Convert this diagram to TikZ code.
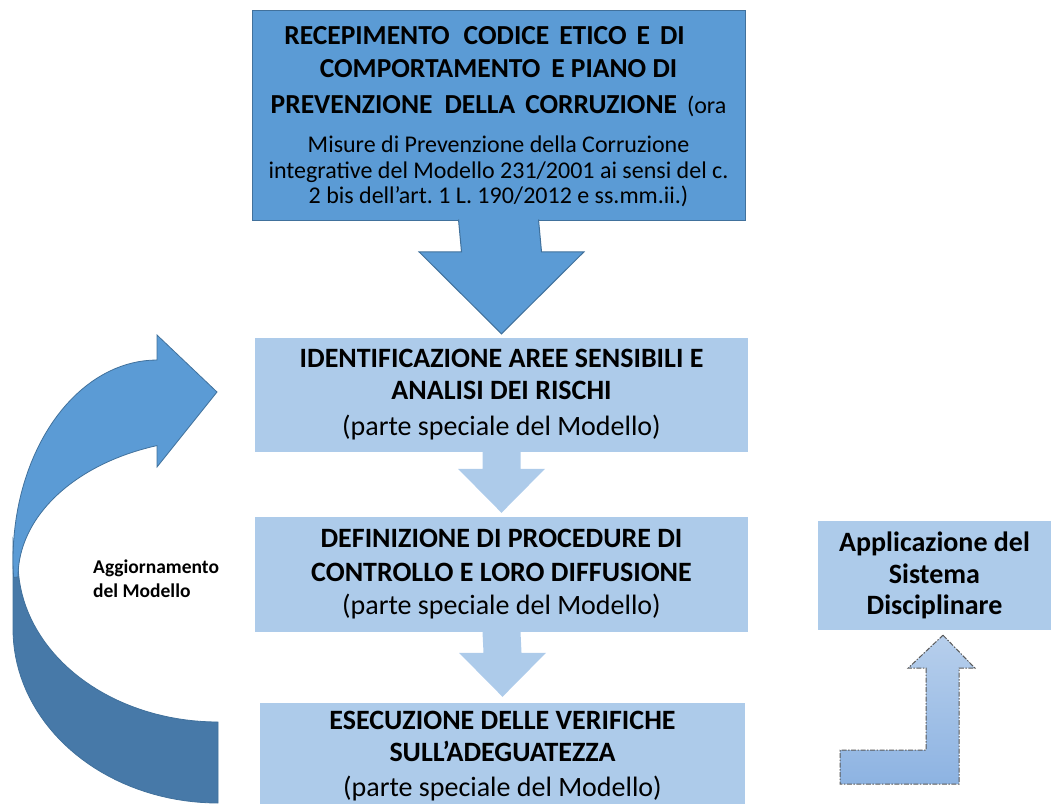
\documentclass[tikz,border=0pt]{standalone}
\usepackage{fontspec}
\setmainfont{Carlito}
\usetikzlibrary{calc}
\frenchspacing

\definecolor{accent}{HTML}{5B9BD5}
\definecolor{accentline}{HTML}{41719C}
\definecolor{pale}{HTML}{ADCBEA}
\definecolor{deep}{HTML}{4779A8}
\definecolor{bentTop}{HTML}{B7CFEC}
\definecolor{bentBot}{HTML}{8DB3E2}

\newcommand{\capsfont}{\fontsize{27.5}{26}\selectfont\bfseries}

\begin{document}
\begin{tikzpicture}[x=1pt, y=-1pt,
	topbox/.style={fill=accent, draw=accentline, line width=1pt, minimum width=493pt, minimum height=210pt, inner sep=0pt, align=center, font=\fontsize{24}{26}\selectfont},
	litebox/.style={fill=pale, inner sep=0pt, align=center, font=\fontsize{28}{32}\selectfont},
	darkarrow/.style={fill=accent, draw=accentline, line width=1pt},
	litearrow/.style={fill=pale},
	bandlight/.style={fill=accent, draw=accentline, line width=.8pt},
	banddark/.style={fill=deep, draw=accentline, line width=.8pt},
	bentarrow/.style={top color=bentTop, bottom color=bentBot, draw=gray!70!black, line width=1pt, dash pattern=on 5pt off 1.5pt on 1.5pt off 1.5pt}]
	
	\useasboundingbox (0,0) rectangle (1051,803);
	\clip (0,0) rectangle (1051,803);
	
	\node[topbox] (R) at (498.5,115) {\rule{0pt}{21.7pt}{\capsfont RECEPIMENTO\hspace{14pt}CODICE\hspace{10pt}ETICO\hspace{10pt}E\hspace{10pt}DI\kern28pt}\\[7pt]{\capsfont COMPORTAMENTO\hspace{11pt}E PIANO DI}\\[10pt]{\capsfont PREVENZIONE\hspace{12pt}DELLA\hspace{10pt}CORRUZIONE}\hspace{10pt}(ora\\[13pt]Misure di Prevenzione della Corruzione\\integrative del Modello 231/2001 ai sensi del c.\\[-1pt]2 bis dell’art. 1 L. 190/2012 e ss.mm.ii.)};
	\node[litebox, minimum width=493pt, minimum height=114pt] (I) at (501.5,395) {\textbf{IDENTIFICAZIONE AREE SENSIBILI E}\\\textbf{ANALISI DEI RISCHI}\\[4pt](parte speciale del Modello)};
	\node[litebox, minimum width=493pt, minimum height=115pt] (D) at (501.5,574.5) {\textbf{DEFINIZIONE DI PROCEDURE DI}\\[2pt]\textbf{CONTROLLO E LORO DIFFUSIONE}\\[1pt](parte speciale del Modello)};
	\node[litebox, minimum width=485pt, minimum height=107pt] (E) at (502.5,756.5) {\textbf{ESECUZIONE DELLE VERIFICHE}\\\textbf{SULL’ADEGUATEZZA}\\[3pt](parte speciale del Modello)};
	\node[litebox, minimum width=233pt, minimum height=109pt, font=\fontsize{28}{32}\selectfont\bfseries] (S) at (934.5,575.5) {Applicazione del\\Sistema\\[-1pt]Disciplinare};
	\node[anchor=west, align=left, inner sep=0pt, font=\fontsize{19.5}{24}\selectfont\bfseries] (agg) at (93,579) {Aggiornamento\\del Modello};
	
	% arrows down the column
	\filldraw[darkarrow] ($(R.south)+(-40,-1)$) -- ($(I.north)+(-40,-86)$) -- ($(I.north)+(-82.5,-86)$) -- ($(I.north)+(0,-4)$) -- ($(I.north)+(82.5,-86)$) -- ($(I.north)+(40,-86)$) -- ($(R.south)+(40,-1)$);
	\fill[litearrow] ($(I.south)+(-19,0)$) -- ($(D.north)+(-19,-48)$) -- ($(D.north)+(-43.5,-48)$) -- ($(D.north)+(0,-4)$) -- ($(D.north)+(43.5,-48)$) -- ($(D.north)+(19,-48)$) -- ($(I.south)+(19,0)$) -- cycle;
	\fill[litearrow] ($(D.south)+(-19,0)$) -- ($(E.north)+(-19,-50)$) -- ($(E.north)+(-43.5,-50)$) -- ($(E.north)+(0,-6)$) -- ($(E.north)+(43.5,-50)$) -- ($(E.north)+(19,-50)$) -- ($(D.south)+(19,0)$) -- cycle;
	
	% curved arrow back to the top
	\filldraw[banddark] (13,540) -- plot[domain=180:90, samples=40] ({218+205*cos(\x)},{629+174*sin(\x)}) -- (218,722) -- plot[domain=90:180, samples=40] ({218+200*cos(\x)},{562+160*sin(\x)}) -- cycle;
	\filldraw[bandlight] (157,335) -- (217,392) -- (157,467) -- (157,445.6) -- plot[domain=252.2:180, samples=40] ({218+200*cos(\x)},{577+138*sin(\x)}) -- plot[domain=-185:-90, samples=40] ({157+144*cos(\x)},{560+200*sin(\x)}) -- cycle;
	
	% bent arrow up to S
	\coordinate (tip) at ($(S.south)+(8.5,5)$);
	\draw[bentarrow] (tip) -- ++(32,33) -- ++(-16,0) -- ++(0,116) -- ++(-119,0) -- ++(0,-34) -- ++(86,0) -- ++(0,-82) -- ++(-18,0) -- cycle;
	
\end{tikzpicture}
\end{document}
